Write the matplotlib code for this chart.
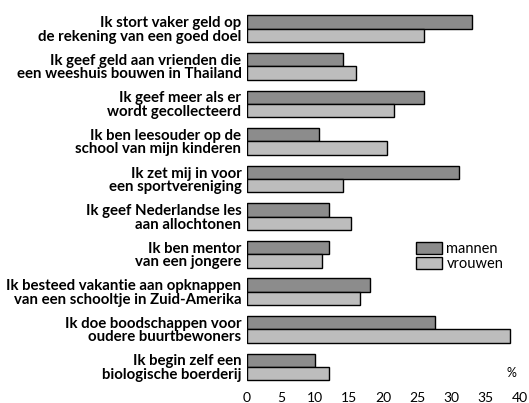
import matplotlib.pyplot as plt
import numpy as np

labels = [
    "Ik stort vaker geld op\nde rekening van een goed doel",
    "Ik geef geld aan vrienden die\neen weeshuis bouwen in Thailand",
    "Ik geef meer als er\nwordt gecollecteerd",
    "Ik ben leesouder op de\nschool van mijn kinderen",
    "Ik zet mij in voor\neen sportvereniging",
    "Ik geef Nederlandse les\naan allochtonen",
    "Ik ben mentor\nvan een jongere",
    "Ik besteed vakantie aan opknappen\nvan een schooltje in Zuid-Amerika",
    "Ik doe boodschappen voor\noudere buurtbewoners",
    "Ik begin zelf een\nbiologische boerderij",
]
mannen = [33, 14, 26, 10.5, 31, 12, 12, 18, 27.5, 10]
vrouwen = [26, 16, 21.5, 20.5, 14, 15.2, 11, 16.5, 38.5, 12]

plt.rcParams['font.family'] = ['Lato', 'DejaVu Sans']

fig = plt.figure(figsize=(5.29, 4.03), dpi=100)
ax = fig.add_axes([0.467, 0.042, 0.516, 0.938])

n = len(labels)
y = np.arange(n)[::-1]
h = 0.355
ax.barh(y + h / 2, mannen, height=h, color='#8c8c8c', edgecolor='black', linewidth=1, label='mannen')
ax.barh(y - h / 2, vrouwen, height=h, color='#bdbdbd', edgecolor='black', linewidth=1, label='vrouwen')

ax.set_xlim(0, 40)
ax.set_ylim(-0.51, 9.55)
ax.set_xticks(range(0, 41, 5))
ax.set_yticks(y)
ax.set_yticklabels(labels, fontsize=10.8, fontweight='bold', linespacing=0.95)
ax.tick_params(axis='both', length=0)
ax.tick_params(axis='x', labelsize=10, pad=4)
ax.tick_params(axis='y', pad=4)
for s in ax.spines.values():
    s.set_visible(False)

ax.text(0.968, 0.025, '%', transform=ax.transAxes, fontsize=9, ha='center')

fig.legend(loc='upper left', bbox_to_anchor=(0.775, 0.415), frameon=False,
           fontsize=10.5, handlelength=1.8, handleheight=0.9, handletextpad=0.3,
           labelspacing=0.1, borderaxespad=0)

plt.savefig('out.png', dpi=100)
